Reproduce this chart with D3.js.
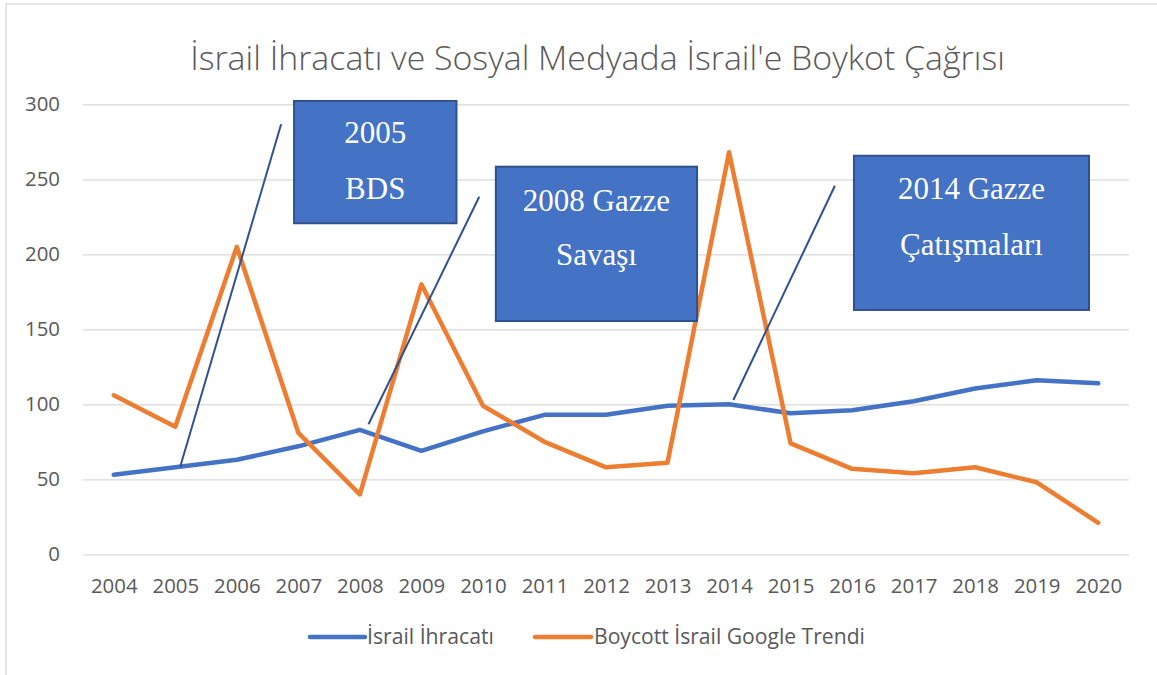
<!DOCTYPE html>
<html>
<head>
<meta charset="utf-8">
<script src="https://cdn.jsdelivr.net/npm/d3@7"></script>
<style>
  body { margin: 0; background: #fff; }
  svg { display: block; }
</style>
</head>
<body>
<svg id="chart" width="1157" height="675"></svg>
<script>
// data
var years = [2004, 2005, 2006, 2007, 2008, 2009, 2010, 2011, 2012, 2013, 2014, 2015, 2016, 2017, 2018, 2019, 2020];
var ihracat = [53, 58, 63, 72, 83, 69, 82, 93, 93, 99, 100, 94, 96, 102, 110.5, 116, 114];
var boykot  = [106, 85, 205, 81, 40, 180, 99, 75, 58, 61, 268, 74, 57, 54, 58, 48, 21];
var yTicks = [0, 50, 100, 150, 200, 250, 300];

var seriesNames = ["İsrail İhracatı", "Boycott İsrail Google Trendi"];
var seriesColors = ["#4472C4", "#ED7D31"];

// callouts, in data units (year, value)
var calloutLines = [
  {x1: 2005.08, y1: 58.4, x2: 2006.72, y2: 286.7},
  {x1: 2008.14, y1: 86.7, x2: 2009.94, y2: 238.4},
  {x1: 2014.07, y1: 102.9, x2: 2015.72, y2: 245.7}
];
var calloutBoxes = [
  {x0: 2006.93, x1: 2009.57, top: 302.2, bottom: 220.7, lines: ["2005", "BDS"], first: 42, gap: 55.5},
  {x0: 2010.21, x1: 2013.48, top: 258.4, bottom: 155.5, lines: ["2008 Gazze", "Savaşı"], first: 44, gap: 54},
  {x0: 2016.03, x1: 2019.85, top: 265.7, bottom: 162.9, lines: ["2014 Gazze", "Çatışmaları"], first: 43.5, gap: 56}
];

var svg = d3.select("#chart");
var font = "'Open Sans', 'Noto Sans', sans-serif";
var grey = "#595959";

// chart frame
svg.append("rect")
    .attr("x", 6).attr("y", 4)
    .attr("width", 1170).attr("height", 690)
    .attr("fill", "#fff")
    .attr("stroke", "#d9d9d9")
    .attr("stroke-width", 1.3);

var x = d3.scaleLinear().domain([2003.5, 2020.5]).range([83, 1129]);
var y = d3.scaleLinear().domain([0, 300]).range([554.3, 104.3]);

//fits a text element to a target width by changing its font size
function fitWidth(sel, target) {
    var size = parseFloat(sel.attr("font-size"));
    var w = sel.node().getComputedTextLength();
    sel.attr("font-size", size * target / w);
}

// title
var title = svg.append("text")
    .attr("x", 597.5).attr("y", 70)
    .attr("text-anchor", "middle")
    .attr("font-family", font)
    .attr("font-weight", 300)
    .attr("font-size", 27)
    .attr("fill", grey)
    .text("İsrail İhracatı ve Sosyal Medyada İsrail'e Boykot Çağrısı");
fitWidth(title, 815);

// gridlines + y labels
var yAxis = svg.append("g")
    .attr("transform", "translate(83,0)")
    .call(d3.axisLeft(y).tickValues(yTicks).tickSize(-1046).tickPadding(23));
yAxis.select(".domain").remove();
yAxis.selectAll(".tick line").attr("stroke", "#d9d9d9").attr("stroke-width", 1.3);
yAxis.selectAll(".tick text")
    .attr("font-family", font).attr("font-size", 20.4).attr("fill", grey);

// x labels
var xAxis = svg.append("g")
    .attr("transform", "translate(0," + y(0) + ")")
    .call(d3.axisBottom(x).tickValues(years).tickFormat(d3.format("d")).tickSize(0).tickPadding(39));
xAxis.select(".domain").remove();
xAxis.selectAll(".tick text")
    .attr("dy", null)
    .attr("font-family", font).attr("font-size", 20.4).attr("fill", grey);

// series lines
var line = d3.line()
    .x(function(d, i) { return x(years[i]); })
    .y(function(d) { return y(d); });

[ihracat, boykot].forEach(function(vals, k) {
    svg.append("path")
        .datum(vals)
        .attr("d", line)
        .attr("fill", "none")
        .attr("stroke", seriesColors[k])
        .attr("stroke-width", 4.5)
        .attr("stroke-linejoin", "round")
        .attr("stroke-linecap", "round");
});

// callout pointer lines
svg.selectAll(".callout-line")
    .data(calloutLines)
    .enter().append("line")
    .attr("class", "callout-line")
    .attr("x1", d => x(d.x1)).attr("y1", d => y(d.y1))
    .attr("x2", d => x(d.x2)).attr("y2", d => y(d.y2))
    .attr("stroke", "#2F528F")
    .attr("stroke-width", 2);

// callout boxes
var box = svg.selectAll(".callout-box")
    .data(calloutBoxes)
    .enter().append("g")
    .attr("class", "callout-box");

box.append("rect")
    .attr("x", d => x(d.x0)).attr("y", d => y(d.top))
    .attr("width", d => x(d.x1) - x(d.x0))
    .attr("height", d => y(d.bottom) - y(d.top))
    .attr("fill", "#4472C4")
    .attr("stroke", "#2F528F")
    .attr("stroke-width", 2);

box.each(function(d) {
    var g = d3.select(this);
    d.lines.forEach(function(t, i) {
        g.append("text")
            .attr("x", (x(d.x0) + x(d.x1)) / 2)
            .attr("y", y(d.top) + d.first + i * d.gap)
            .attr("text-anchor", "middle")
            .attr("font-family", "'Liberation Serif', 'Times New Roman', serif")
            .attr("font-size", 31)
            .attr("fill", "#fff")
            .text(t);
    });
});

// legend
var legendItems = [
  {x0: 310, x1: 365, tx: 367, w: 127},
  {x0: 535, x1: 591, tx: 594, w: 271}
];
legendItems.forEach(function(l, k) {
    svg.append("line")
        .attr("x1", l.x0).attr("x2", l.x1)
        .attr("y1", 637).attr("y2", 637)
        .attr("stroke", seriesColors[k])
        .attr("stroke-width", 4.5)
        .attr("stroke-linecap", "round");
    var t = svg.append("text")
        .attr("x", l.tx).attr("y", 644)
        .attr("font-family", font)
        .attr("font-size", 19)
        .attr("fill", grey)
        .text(seriesNames[k]);
    fitWidth(t, l.w);
});
</script>
</body>
</html>
